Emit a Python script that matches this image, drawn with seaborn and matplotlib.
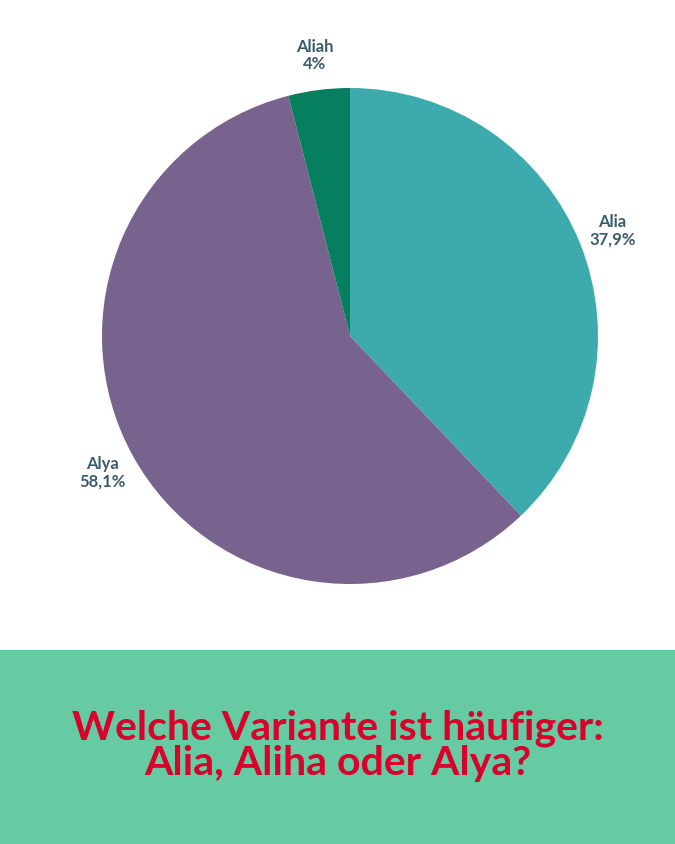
import matplotlib
matplotlib.use("Agg")
import matplotlib.pyplot as plt
import seaborn as sns
from matplotlib.patches import Rectangle

# data
names = ["Alia", "Alya", "Aliah"]
shares = [37.9, 58.1, 4.0]
colors = ["#3DAAAE", "#77638D", "#067F5E"]
title = "Welche Variante ist häufiger:\nAlia, Aliha oder Alya?"

sns.set_theme(style="white")
plt.rcParams['font.family'] = ['Lato', 'DejaVu Sans']

fig = plt.figure(figsize=(6.75, 8.44), dpi=100)
fig.patch.set_facecolor("white")

# bottom band with the question
fig.patches.append(Rectangle((0, 0), 1, 194 / 844, transform=fig.transFigure,
                             facecolor="#66CBA3", edgecolor="none", zorder=0))
fig.text(0.5, 1 - 746 / 844, title, ha="center", va="center", fontsize=29.5,
         fontweight="bold", color="#D9002B", linespacing=0.95)

def fmt(v):
    s = f"{v:.1f}".rstrip("0").rstrip(".")
    return s.replace(".", ",") + "%"

labels = [f"{n}\n{fmt(v)}" for n, v in zip(names, shares)]

ax = fig.add_axes([102 / 675, 1 - 584 / 844, 496 / 675, 496 / 844])
wedges, texts = ax.pie(shares, labels=labels, colors=colors, startangle=90,
                       counterclock=False, labeldistance=1.14,
                       wedgeprops=dict(linewidth=0),
                       textprops=dict(fontsize=12, fontweight="bold",
                                      color="#3B5B6E", linespacing=1.1))
for t in texts:
    t.set_ha("center")
    t.set_va("center")
ax.set_xlim(-1, 1)
ax.set_ylim(-1, 1)
ax.set_aspect("equal")
ax.axis("off")

fig.savefig("out.png", dpi=100)
